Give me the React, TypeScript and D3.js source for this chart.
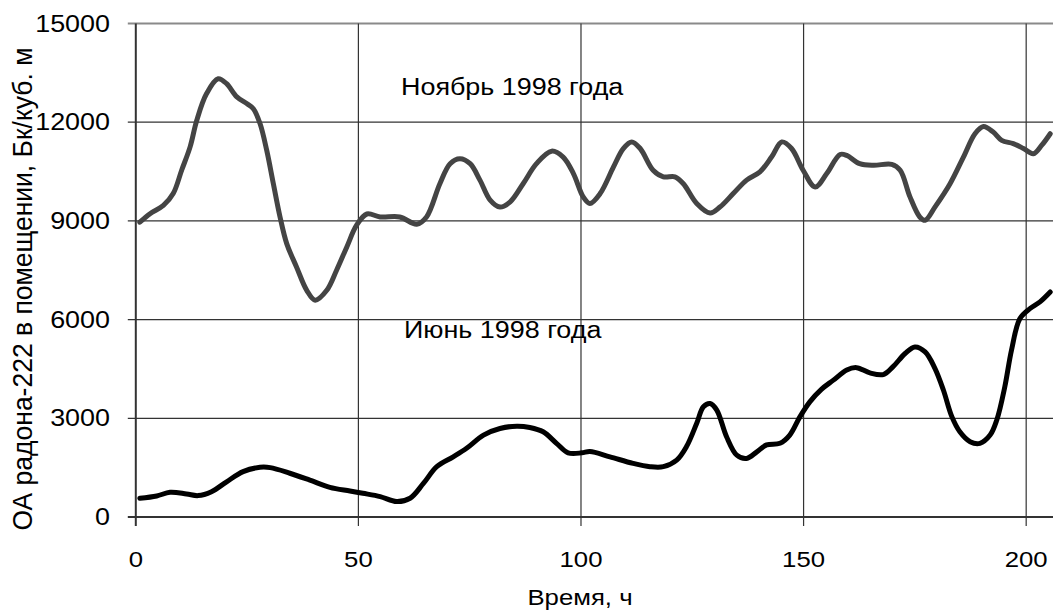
import React from "react";
import * as d3 from "d3";

const novX = [0.9, 3.2, 6.2, 8.4, 10.3, 12.2, 13.7, 15.9, 18.5, 20.4, 22.7, 25.0, 26.4, 27.9, 29.4, 30.9, 32.4, 33.9, 36.1, 38.4, 40.3, 42.9, 45.1, 47.4, 49.6, 51.9, 54.9, 59.3, 63.1, 65.3, 68.3, 70.6, 72.8, 75.1, 77.3, 79.6, 81.8, 84.1, 87.0, 90.0, 93.4, 96.0, 98.3, 100.5, 102.0, 104.3, 107.3, 109.5, 111.4, 113.3, 116.2, 118.5, 121.1, 123.0, 126.0, 129.0, 131.2, 134.2, 137.2, 140.2, 142.8, 145.1, 147.3, 149.9, 152.6, 155.2, 158.2, 159.7, 162.6, 165.7, 169.8, 171.7, 173.9, 176.1, 177.3, 179.5, 182.9, 185.9, 188.5, 190.4, 192.6, 194.5, 197.1, 199.4, 201.6, 203.5, 205.4];
const novY = [8960, 9220, 9470, 9830, 10540, 11250, 12060, 12870, 13320, 13170, 12770, 12560, 12410, 11960, 11150, 10130, 9120, 8310, 7600, 6890, 6590, 6890, 7500, 8210, 8870, 9210, 9120, 9120, 8900, 9120, 10130, 10740, 10890, 10740, 10240, 9630, 9420, 9580, 10130, 10740, 11120, 10940, 10440, 9730, 9530, 9830, 10640, 11200, 11400, 11200, 10540, 10340, 10340, 10130, 9530, 9240, 9420, 9830, 10240, 10490, 10940, 11400, 11200, 10540, 10030, 10440, 11020, 10990, 10740, 10690, 10720, 10540, 9730, 9120, 9020, 9420, 10130, 10940, 11650, 11870, 11700, 11450, 11350, 11200, 11040, 11300, 11650];

const junX = [0.9, 4.7, 7.7, 11.4, 14.0, 17.0, 20.4, 24.1, 27.9, 30.2, 34.6, 39.1, 43.6, 48.1, 51.0, 54.9, 58.6, 61.6, 64.6, 67.6, 71.3, 74.3, 78.1, 81.8, 85.6, 88.5, 91.5, 94.5, 97.1, 100.2, 102.0, 106.5, 111.7, 115.5, 118.5, 121.5, 123.7, 126.0, 127.5, 129.0, 130.5, 132.7, 135.0, 137.2, 139.5, 141.7, 144.7, 146.9, 149.2, 151.4, 154.0, 156.7, 159.7, 161.9, 164.9, 167.9, 170.1, 172.8, 175.0, 177.3, 179.5, 181.4, 183.3, 185.1, 187.4, 189.6, 191.9, 193.4, 195.2, 196.7, 198.6, 200.9, 203.1, 205.4];
const junY = [570, 640, 750, 700, 650, 770, 1070, 1380, 1510, 1500, 1330, 1120, 900, 790, 720, 620, 470, 570, 1020, 1530, 1830, 2090, 2490, 2690, 2760, 2720, 2590, 2240, 1950, 1950, 1990, 1830, 1630, 1530, 1530, 1730, 2140, 2850, 3350, 3450, 3250, 2440, 1880, 1780, 1980, 2190, 2240, 2490, 3050, 3500, 3880, 4160, 4470, 4540, 4380, 4330, 4570, 4970, 5170, 5020, 4520, 3860, 3050, 2590, 2290, 2240, 2490, 2950, 3960, 5070, 6030, 6340, 6540, 6840];

const xTicks = [0, 50, 100, 150, 200];
const yTicks = [0, 3000, 6000, 9000, 12000, 15000];

const FONT = "'Liberation Sans', Arial, sans-serif";
const SX = 1.17;

function SText(props: {
  x: number;
  y: number;
  anchor?: "start" | "middle" | "end";
  size: number;
  children: React.ReactNode;
}) {
  return (
    <text
      transform={`translate(${props.x},${props.y}) scale(${SX},1)`}
      textAnchor={props.anchor || "start"}
      fontSize={props.size}
      fill="#000"
    >
      {props.children}
    </text>
  );
}

export default function App() {
  const W = 1053, H = 614;
  const left = 135.8, right = 1052, top = 23.5, bottom = 517;
  const x = d3.scaleLinear().domain([0, 205.8]).range([left, right]);
  const y = d3.scaleLinear().domain([0, 15000]).range([bottom, top]);
  const mk = (xs: number[], ys: number[]) =>
    d3
      .line<number>()
      .x((d) => x(d))
      .y((_, i) => y(ys[i]))
      .curve(d3.curveCatmullRom.alpha(0.5))(xs) || "";

  return (
    <svg
      width={W}
      height={H}
      style={{ position: "absolute", left: 0, top: 0, background: "#fff" }}
      fontFamily={FONT}
    >
      {yTicks.map((t) => (
        <line
          key={"gy" + t}
          x1={left - 8}
          x2={W}
          y1={y(t)}
          y2={y(t)}
          stroke={t === 15000 ? "#8a8a8a" : "#333"}
          strokeWidth={t === 15000 ? 2 : t === 0 ? 2 : 1.2}
        />
      ))}
      {xTicks.map((t) => (
        <line
          key={"gx" + t}
          x1={x(t)}
          x2={x(t)}
          y1={top}
          y2={bottom + 9}
          stroke="#333"
          strokeWidth={t === 0 ? 2 : 1.2}
        />
      ))}
      {yTicks.map((t) => (
        <SText key={"ly" + t} x={110} y={y(t) + 8} anchor="end" size={23}>
          {t}
        </SText>
      ))}
      {xTicks.map((t) => (
        <SText key={"lx" + t} x={x(t)} y={567} anchor="middle" size={22}>
          {t}
        </SText>
      ))}
      <SText x={580} y={605} anchor="middle" size={22}>
        Время, ч
      </SText>
      <text
        transform={`translate(32, 289) rotate(-90) scale(1,1.05)`}
        textAnchor="middle"
        fontSize={26.5}
        fill="#000"
      >
        ОА радона-222 в помещении, Бк/куб. м
      </text>
      <SText x={401} y={95} size={23}>
        Ноябрь 1998 года
      </SText>
      <SText x={404} y={338} size={23}>
        Июнь 1998 года
      </SText>
      <path
        d={mk(novX, novY)}
        fill="none"
        stroke="#444"
        strokeWidth={5}
        strokeLinejoin="round"
        strokeLinecap="round"
      />
      <path
        d={mk(junX, junY)}
        fill="none"
        stroke="#000"
        strokeWidth={5}
        strokeLinejoin="round"
        strokeLinecap="round"
      />
    </svg>
  );
}
